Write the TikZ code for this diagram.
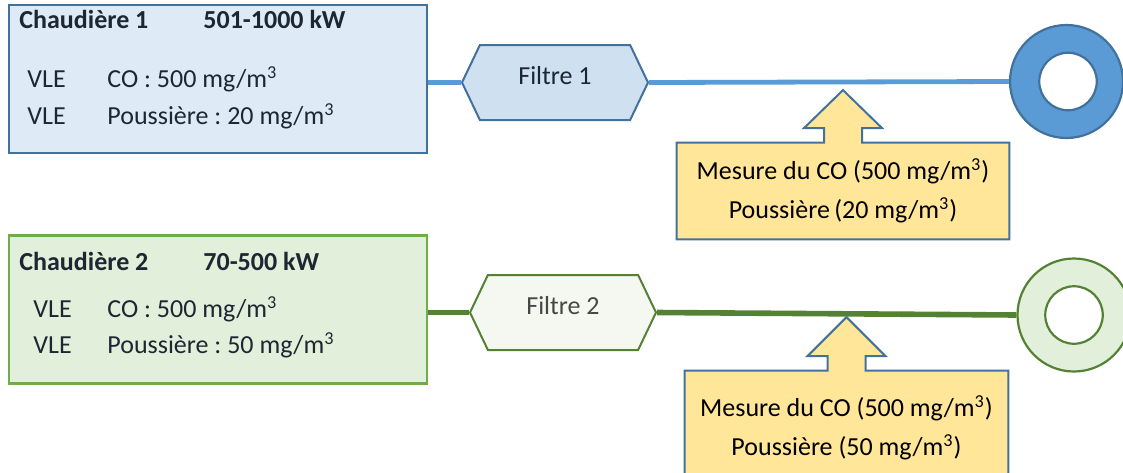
\documentclass[tikz,border=0pt]{standalone}
\usepackage{fontspec}
\setmainfont{Carlito}
\usetikzlibrary{shapes.symbols,backgrounds}
\definecolor{bleuclair}{HTML}{DEEBF7}
\definecolor{bleufiltre}{HTML}{CFE0F1}
\definecolor{bleu}{HTML}{5B9BD5}
\definecolor{bleufonce}{HTML}{41719C}
\definecolor{vertclair}{HTML}{E2EFDA}
\definecolor{vertfiltre}{HTML}{F5F8F1}
\definecolor{vert}{HTML}{70AD47}
\definecolor{vertfonce}{HTML}{548235}
\definecolor{jaune}{HTML}{FFE699}
\definecolor{encre}{HTML}{1C2733}
\definecolor{gris}{HTML}{474747}
\frenchspacing

\begin{document}
\begin{tikzpicture}[x=0.5pt,y=-0.5pt,
every node/.style={font=\fontsize{13}{16}\selectfont, text=encre},
chaudiere/.style={draw, line width=1.2pt, minimum width=209pt, minimum height=74pt, inner sep=0pt},
filtre/.style={signal, signal to=west and east, signal pointer angle=129, draw, line width=1pt,
  minimum width=93pt, minimum height=37.5pt, text depth=7pt},
anneau/.style={circle, draw, line width=1.1pt, minimum size=56.5pt, inner sep=0pt},
trou/.style={circle, draw, fill=white, line width=1.1pt, minimum size=28.75pt, inner sep=0pt},
txt/.style={anchor=base west, inner sep=0pt},
mesure/.style={align=center, font=\fontsize{13}{19.5}\selectfont, text=black, inner sep=0pt},
fleche/.style={draw=bleufonce, fill=jaune, line width=1pt},
lien/.style={line width=#1}
  ]
  \useasboundingbox (0,0) rectangle (1123,472);

  \node[chaudiere, draw=bleufonce, fill=bleuclair] (chaud1) at (218,79) {};
  \node[txt] (titre1) at (19,28) {\textbf{Chaudière 1}};
  \node[txt] (puiss1) at (203,28) {\textbf{501-1000 kW}};
  \node[txt] (vle1a) at (27,87) {VLE};
  \node[txt] (co1) at (107,87) {CO : 500 mg/m\textsuperscript{3}};
  \node[txt] (vle1b) at (27,124) {VLE};
  \node[txt] (pous1) at (107,124) {Poussière : 20 mg/m\textsuperscript{3}};

  \node[filtre, draw=bleufonce, fill=bleufiltre] (filtre1) at (555,82.5) {Filtre 1};
  \node[anneau, draw=bleufonce, fill=bleu] (anneau1) at (1066.5,81.5) {};
  \node[trou, draw=bleufonce] (trou1) at (1068,81.5) {};
  \draw[lien=2.4pt, bleu] (filtre1.west -| chaud1.east) -- (filtre1.west);
  \draw[lien=2.4pt, bleu] (filtre1.east) -- (anneau1.west);

  \node[mesure, minimum width=166pt, minimum height=48pt] (mes1) at (843,191)
    {Mesure du CO (500 mg/m\textsuperscript{3})\\Poussière\,(20 mg/m\textsuperscript{3})};

  \node[chaudiere, draw=vert, fill=vertclair] (chaud2) at (218,309.5) {};
  \node[txt] (titre2) at (19,270) {\textbf{Chaudière 2}};
  \node[txt] (puiss2) at (203,270) {\textbf{70-500 kW}};
  \node[txt] (vle2a) at (33,317) {VLE};
  \node[txt] (co2) at (107,317) {CO : 500 mg/m\textsuperscript{3}};
  \node[txt] (vle2b) at (33,353) {VLE};
  \node[txt] (pous2) at (107,353) {Poussière : 50 mg/m\textsuperscript{3}};

  \node[filtre, draw=vertfonce, fill=vertfiltre, text=gris] (filtre2) at (563,312.5) {Filtre 2};
  \node[anneau, draw=vertfonce, fill=vertclair] (anneau2) at (1074,315) {};
  \node[trou, draw=vertfonce] (trou2) at (1074,315) {};
  \draw[lien=2.8pt, vertfonce] (filtre2.west -| chaud2.east) -- (filtre2.west);
  \draw[lien=2.8pt, vertfonce] (filtre2.east) -- (anneau2.west);

  \node[mesure, minimum width=161.5pt, minimum height=57pt] (mes2) at (846.5,428)
    {Mesure du CO (500 mg/m\textsuperscript{3})\\Poussière (50 mg/m\textsuperscript{3})};

  \begin{scope}[on background layer]
    \draw[fleche] (mes1.north west) -- ([xshift=-9.5pt]mes1.north) -- ++(0,-14.5) -- ++(-20,0)
      -- ++(39,-38) -- ++(39,38) -- ++(-20,0) -- ++(0,14.5) -- (mes1.north east)
      -- (mes1.south east) -- (mes1.south west) -- cycle;
    \draw[fleche] (mes2.north west) -- ([xshift=-9.5pt]mes2.north) -- ++(0,-14.5) -- ++(-20,0)
      -- ++(39,-39) -- ++(39,39) -- ++(-20,0) -- ++(0,14.5) -- (mes2.north east)
      -- (mes2.south east) -- (mes2.south west) -- cycle;
  \end{scope}
\end{tikzpicture}
\end{document}
